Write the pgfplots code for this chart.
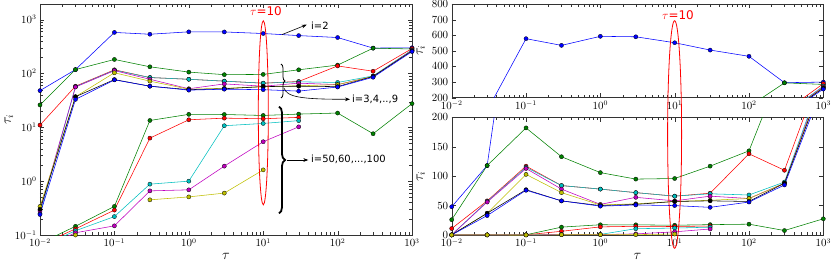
\documentclass[border=0pt]{standalone}
\usepackage{pgfplots}
\pgfplotsset{compat=1.18}
\usepackage{pgfplotstable}
\usepackage{fontspec}
\newfontfamily\dejavu{DejaVu Sans}
\usetikzlibrary{decorations.pathreplacing,arrows.meta}

\definecolor{mb}{rgb}{0,0,1}
\definecolor{mg}{rgb}{0,0.5,0}
\definecolor{mr}{rgb}{1,0,0}
\definecolor{mc}{rgb}{0,0.75,0.75}
\definecolor{mm}{rgb}{0.75,0,0.75}
\definecolor{my}{rgb}{0.75,0.75,0}
\definecolor{mk}{rgb}{0,0,0}

% i=2
\pgfplotstableread{
x y
0.01 48
0.03 118
0.1 578
0.3 535
1 593
3 590
10 552
30 505
100 465
300 296
1000 300
}\tA
% i=3
\pgfplotstableread{
x y
0.01 26
0.03 118
0.1 182
0.3 133
1 106
3 95
10 96
30 117
100 143
300 295
1000 285
}\tB
% i=4
\pgfplotstableread{
x y
0.01 11
0.03 58
0.1 117
0.3 84
1 78
3 72
10 66
30 71
100 138
300 110
1000 290
}\tC
% i=5
\pgfplotstableread{
x y
0.01 0.25
0.03 57
0.1 115
0.3 84
1 78
3 72
10 66
30 70
100 68
300 90
1000 275
}\tD
% i=6
\pgfplotstableread{
x y
0.01 0.28
0.03 56
0.1 113
0.3 78
1 52
3 64
10 58
30 66
100 62
300 88
1000 270
}\tE
% i=7
\pgfplotstableread{
x y
0.01 0.34
0.03 37
0.1 103
0.3 72
1 51
3 53
10 57
30 59
100 62
300 88
1000 265
}\tF
% i=8
\pgfplotstableread{
x y
0.01 0.3
0.03 37
0.1 77
0.3 58
1 50
3 52
10 57
30 58
100 57
300 88
1000 262
}\tG
% i=9
\pgfplotstableread{
x y
0.01 0.24
0.03 33
0.1 76
0.3 58
1 49
3 51
10 50
30 47
100 56
300 85
1000 255
}\tH
% i=50
\pgfplotstableread{
x y
0.01 0.07
0.03 0.145
0.1 0.34
0.3 13.4
1 17.4
3 17.3
10 16.6
30 17.6
100 18.4
300 7.6
1000 27.5
}\tI
% i=60
\pgfplotstableread{
x y
0.01 0.065
0.03 0.13
0.1 0.29
0.3 6.3
1 13.8
3 14.8
10 14.4
30 15.3
}\tJ
% i=70
\pgfplotstableread{
x y
0.01 0.06
0.03 0.12
0.1 0.22
0.3 0.88
1 1.0
3 10.7
10 11.8
30 13.3
}\tK
% i=80
\pgfplotstableread{
x y
0.01 0.055
0.03 0.11
0.1 0.148
0.3 0.66
1 0.69
3 1.9
10 5.4
30 10.2
}\tL
% i=90
\pgfplotstableread{
x y
0.01 0.05
0.03 0.10
0.1 0
0.3 0.45
1 0.51
3 0.6
10 1.62
}\tM

\pgfplotsset{
  myser/.style={color=#1, line width=0.55pt, mark=*, mark size=2.1pt,
    mark options={fill=#1, draw=black, line width=0.3pt}},
}
\newcommand\plotall{%
  \addplot[myser=mb] table {\tA};
  \addplot[myser=mg] table {\tB};
  \addplot[myser=mr] table {\tC};
  \addplot[myser=mc] table {\tD};
  \addplot[myser=mm] table {\tE};
  \addplot[myser=my] table {\tF};
  \addplot[myser=mk] table {\tG};
  \addplot[myser=mb] table {\tH};
  \addplot[myser=mg] table {\tI};
  \addplot[myser=mr] table {\tJ};
  \addplot[myser=mc] table {\tK};
  \addplot[myser=mm] table {\tL};
  \addplot[myser=my] table {\tM};
}

\begin{document}
\begin{tikzpicture}[x=1bp,y=1bp]
\pgfplotsset{every axis/.append style={scale only axis, xmode=log, xmin=0.01, xmax=1000,
    anchor=south west, axis line style={black!80}, tick style={black!80},
    tick label style={font=\fontsize{10.5}{12}\selectfont},
    label style={font=\fontsize{14}{16}\selectfont},
    xtick={0.01,0.1,1,10,100,1000},
    unbounded coords=jump, filter discard warning=false}}
\begin{axis}[at={(40bp,29bp)}, width=372bp, height=231bp,
  ymode=log, ymin=0.1, ymax=1950,
  xlabel={$\tau$}, ylabel={$\tau_i$}, ylabel shift=-5pt]
\plotall
\end{axis}
\begin{axis}[at={(451.7bp,166.3bp)}, width=371.6bp, height=93.7bp,
  ymin=200, ymax=800, ytick={200,300,...,800}, ylabel={$\tau_i$}]
\plotall
\end{axis}
\begin{axis}[at={(451.7bp,29bp)}, width=371.6bp, height=117.7bp,
  ymin=0, ymax=200, ytick={0,50,...,200}, xlabel={$\tau$}, ylabel={$\tau_i$}]
\plotall
\end{axis}

% annotations
\draw[red, line width=0.8pt] (263.3,151.2) ellipse [x radius=5bp, y radius=92bp];
\node[red, font=\dejavu\fontsize{12}{14}\selectfont] at (266,253) {$\tau$=10};
\draw[red, line width=0.8pt] (674.6,129.5) ellipse [x radius=7bp, y radius=113.8bp];
\node[red, font=\dejavu\fontsize{12}{14}\selectfont] at (678,249) {$\tau$=10};

\draw[-{Stealth[length=5bp]}, line width=0.6pt] (281.7,229.3) -- (306.7,239.3);
\node[anchor=west, font=\dejavu\fontsize{10}{12}\selectfont, inner sep=1bp] at (310,238) {i=2};

\draw[decorate, decoration={brace, amplitude=4bp}, line width=0.8pt] (281,200) -- (281,166);
\draw[-{Stealth[length=5bp]}, line width=0.6pt] (284,176) .. controls (287,167) and (300,164.7) .. (350,164.7);
\node[anchor=west, font=\dejavu\fontsize{10}{12}\selectfont, inner sep=1bp] at (351,164.7) {i=3,4,..,9};

\draw[decorate, decoration={brace, amplitude=6bp}, line width=1.8pt] (279,157.3) -- (279,50.7);
\draw[-{Stealth[length=5bp]}, line width=0.6pt] (287,104) -- (308.3,104);
\node[anchor=west, font=\dejavu\fontsize{10}{12}\selectfont, inner sep=1bp] at (310,105) {i=50,60,...,100};

\pgfresetboundingbox
\useasboundingbox (0,0) rectangle (831,264);
\end{tikzpicture}
\end{document}
